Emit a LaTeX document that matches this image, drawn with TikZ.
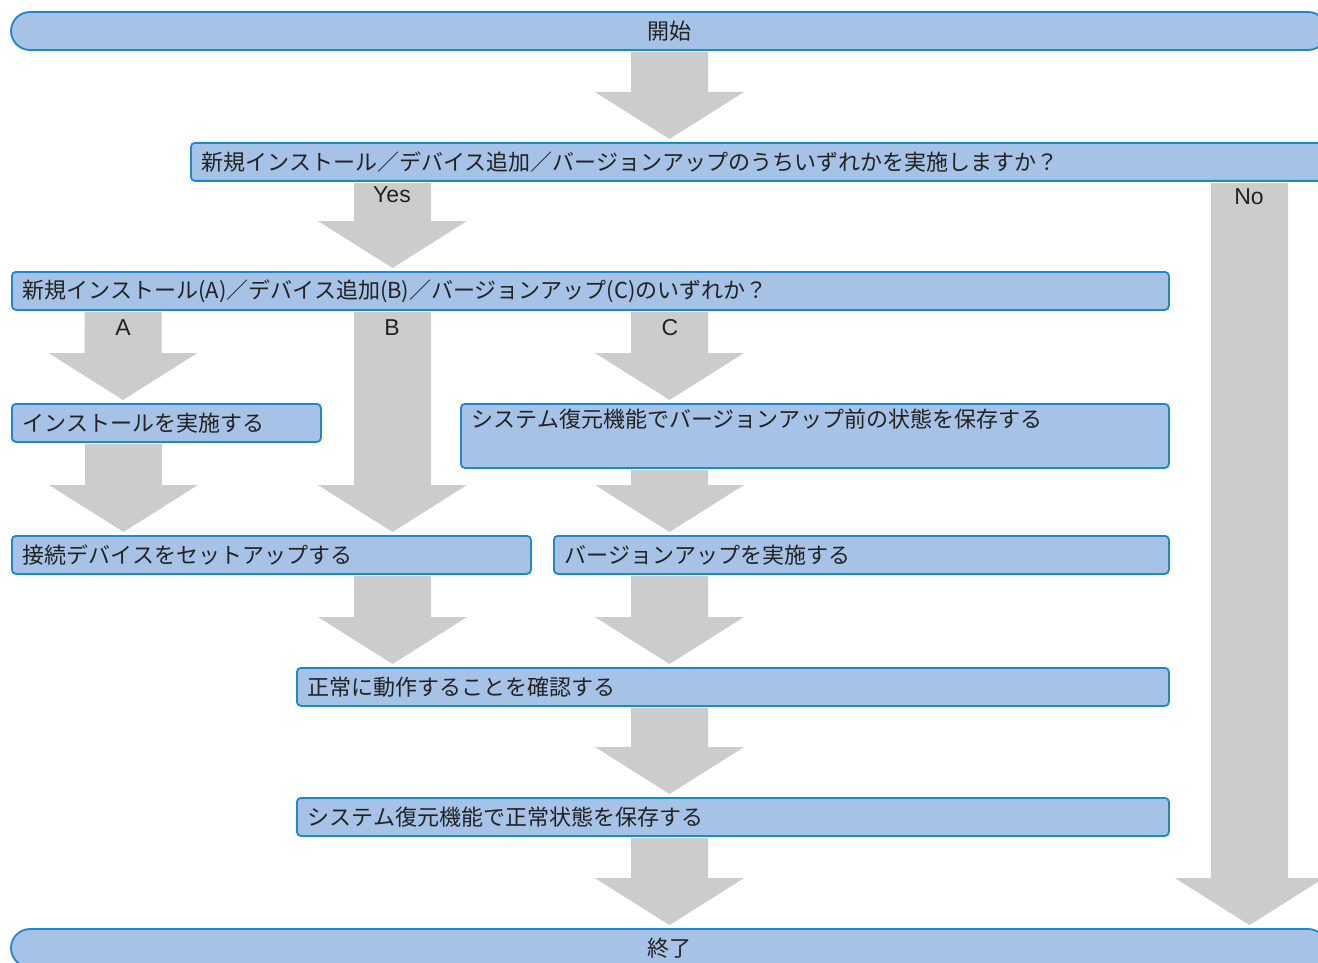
\documentclass[tikz,border=0pt]{standalone}
\usepackage{fontspec}
\setmainfont{Noto Sans CJK JP}
\newfontfamily\latinfont{Liberation Sans}
\usetikzlibrary{calc}
\definecolor{boxfill}{HTML}{A6C2E6}
\definecolor{boxline}{HTML}{1E88CC}
\definecolor{arrowgray}{HTML}{CCCCCC}
\definecolor{txt}{HTML}{222222}
\newcommand\blockarrow[3]{%
  \fill[arrowgray] let \p1=(#2.south), \p2=(#3.north) in
    ({(#1)*1pt-38.5pt},{\y1-1pt}) -- ({(#1)*1pt+38.5pt},{\y1-1pt})
    -- ({(#1)*1pt+38.5pt},{\y2+50pt}) -- ({(#1)*1pt+74.5pt},{\y2+50pt})
    -- ({(#1)*1pt},{\y2+3pt}) -- ({(#1)*1pt-74.5pt},{\y2+50pt})
    -- ({(#1)*1pt-38.5pt},{\y2+50pt}) -- cycle;}
\begin{document}
\begin{tikzpicture}[x=1pt,y=-1pt,
  box/.style={draw=boxline, fill=boxfill, line width=1.8pt, rounded corners=4pt,
    anchor=north west, minimum height=38pt, inner xsep=11pt, inner ysep=0pt,
    align=left, text=txt, font=\fontsize{22}{26}\selectfont},
  term/.style={draw=boxline, fill=boxfill, line width=1.8pt, rounded corners=19pt,
    minimum height=38pt, minimum width=1316pt, inner sep=0pt, text=txt,
    font=\fontsize{22}{26}\selectfont},
  lab/.style={text=txt, inner sep=0pt, font=\latinfont\fontsize{23}{27}\selectfont}]
\useasboundingbox (0,0) rectangle (1318,963);
\clip (0,0) rectangle (1318,963);

\node[term] (start) at (669,31) {開始};
\node[box, text width=1118pt] (q1) at (190,142) {新規インストール／デバイス追加／バージョンアップのうちいずれかを実施しますか？};
\node[box, text width=1135pt] (q2) at (11,271) {新規インストール(A)／デバイス追加(B)／バージョンアップ(C)のいずれか？};
\node[box, text width=287pt] (inst) at (11,403) {インストールを実施する};
\node[box, text width=686pt, minimum height=64pt, text height=21pt, text depth=37pt, inner ysep=3pt] (sys) at (460,403) {システム復元機能でバージョンアップ前の状態を保存する};
\node[box, text width=497pt] (conn) at (11,535) {接続デバイスをセットアップする};
\node[box, text width=593pt] (verup) at (553,535) {バージョンアップを実施する};
\node[box, text width=850pt] (conf) at (296,667) {正常に動作することを確認する};
\node[box, text width=850pt] (save) at (296,797) {システム復元機能で正常状態を保存する};
\node[term] (end) at (669,948) {終了};

\blockarrow{669.5}{start}{q1}
\blockarrow{392.5}{q1}{q2}
\blockarrow{1249.5}{q1}{end}
\blockarrow{123}{q2}{inst}
\blockarrow{392.5}{q2}{conn}
\blockarrow{669.5}{q2}{sys}
\blockarrow{123.5}{inst}{conn}
\blockarrow{669.5}{sys}{verup}
\blockarrow{392.5}{conn}{conf}
\blockarrow{669.5}{verup}{conf}
\blockarrow{669.5}{conf}{save}
\blockarrow{669.5}{save}{end}

\node[lab] (yes) at (392,195) {Yes};
\node[lab] (no) at (1249,197) {No};
\node[lab] (la) at (123,328) {A};
\node[lab] (lb) at (392,328) {B};
\node[lab] (lc) at (670,328) {C};
\end{tikzpicture}
\end{document}
